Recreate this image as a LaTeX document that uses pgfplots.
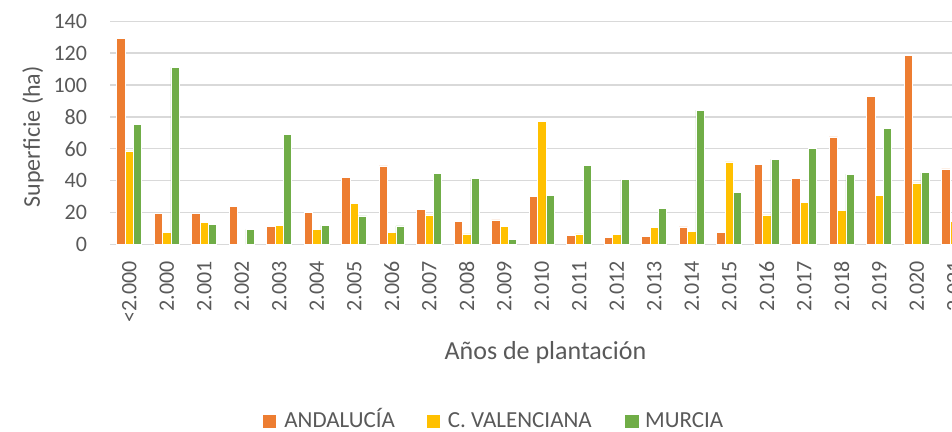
\documentclass[border=0pt]{standalone}
\usepackage{pgfplots}
\pgfplotsset{compat=1.18}
\usepackage{fontspec}
\setmainfont{Carlito}
\definecolor{cA}{HTML}{ED7D31}
\definecolor{cV}{HTML}{FFC000}
\definecolor{cM}{HTML}{70AD47}
\definecolor{textgray}{HTML}{595959}
\definecolor{gridgray}{HTML}{D9D9D9}
\begin{document}
\begin{tikzpicture}
\useasboundingbox (-64.6pt,-93.85pt) rectangle (411.4pt,122.15pt);
\clip (-64.6pt,-93.85pt) rectangle (411.4pt,122.15pt);
\begin{axis}[
  anchor=origin, at={(0pt,0pt)},
  scale only axis,
  x=18.75pt, y=0.7965pt,
  xmin=-0.5, xmax=22.5, ymin=0, ymax=140,
  ybar=0pt, bar width=4.165pt,
  axis line style={draw=none},
  major tick length=0pt,
  ytick={0,20,...,140},
  ymajorgrids,
  grid style={color=gridgray, line width=0.65pt},
  xtick={0,...,22},
  xticklabels={{<2.000},2.000,2.001,2.002,2.003,2.004,2.005,2.006,2.007,2.008,2.009,2.010,2.011,2.012,2.013,2.014,2.015,2.016,2.017,2.018,2.019,2.020,2.021},
  /pgf/number format/assume math mode=true,
  tick label style={font=\fontsize{11}{13}\selectfont, text=textgray},
  yticklabel style={xshift=-8.2pt},
  xticklabel style={rotate=90, anchor=east, inner xsep=8.2pt},
  ylabel={Superficie (ha)},
  ylabel style={at={(axis cs:-2.565,67.5)}, anchor=center, font=\fontsize{12}{14}\selectfont, text=textgray},
  xlabel={Años de plantación},
  xlabel style={at={(axis cs:11.1,-72.2)}, anchor=base, font=\fontsize{13}{15}\selectfont, text=textgray},
]
\addplot[fill=cA, draw=white, line width=0.3pt] coordinates {
(0,129.3) (1,19.2) (2,19.2) (3,24.0) (4,11.0) (5,19.8) (6,41.8) (7,49.2) (8,21.7) (9,14.6)
(10,15.3) (11,29.9) (12,5.6) (13,4.2) (14,5.0) (15,10.9) (16,7.7) (17,50.4) (18,41.4) (19,67.4)
(20,92.7) (21,118.8) (22,47.3)};
\addplot[fill=cV, draw=white, line width=0.3pt] coordinates {
(0,58.6) (1,7.7) (2,13.8) (3,0.6) (4,11.9) (5,9.4) (6,25.9) (7,7.7) (8,18.4) (9,6.5)
(10,11.3) (11,77.2) (12,6.5) (13,6.3) (14,10.7) (15,8.3) (16,51.7) (17,18.4) (18,26.4) (19,21.3)
(20,30.5) (21,38.5) (22,14.6)};
\addplot[fill=cM, draw=white, line width=0.3pt] coordinates {
(0,75.3) (1,111.1) (2,12.6) (3,9.4) (4,68.8) (5,11.9) (6,17.8) (7,11.5) (8,44.6) (9,41.6)
(10,3.1) (11,30.5) (12,49.6) (13,40.6) (14,22.4) (15,84.3) (16,32.8) (17,53.4) (18,60.3) (19,44.1)
(20,73.0) (21,44.9)};
\end{axis}
% legend
\fill[cA] (66.75pt,-91.85pt) rectangle (73.35pt,-85.25pt);
\node[anchor=base west, inner sep=0pt, text=textgray, font=\fontsize{11.5}{13}\selectfont] at (77.4pt,-91.85pt) {ANDALUCÍA};
\fill[cV] (148.7pt,-91.85pt) rectangle (155.3pt,-85.25pt);
\node[anchor=base west, inner sep=0pt, text=textgray, font=\fontsize{11.5}{13}\selectfont] at (159.15pt,-91.85pt) {C. VALENCIANA};
\fill[cM] (248.1pt,-91.85pt) rectangle (254.7pt,-85.25pt);
\node[anchor=base west, inner sep=0pt, text=textgray, font=\fontsize{11.5}{13}\selectfont] at (257.8pt,-91.85pt) {MURCIA};
\end{tikzpicture}
\end{document}
